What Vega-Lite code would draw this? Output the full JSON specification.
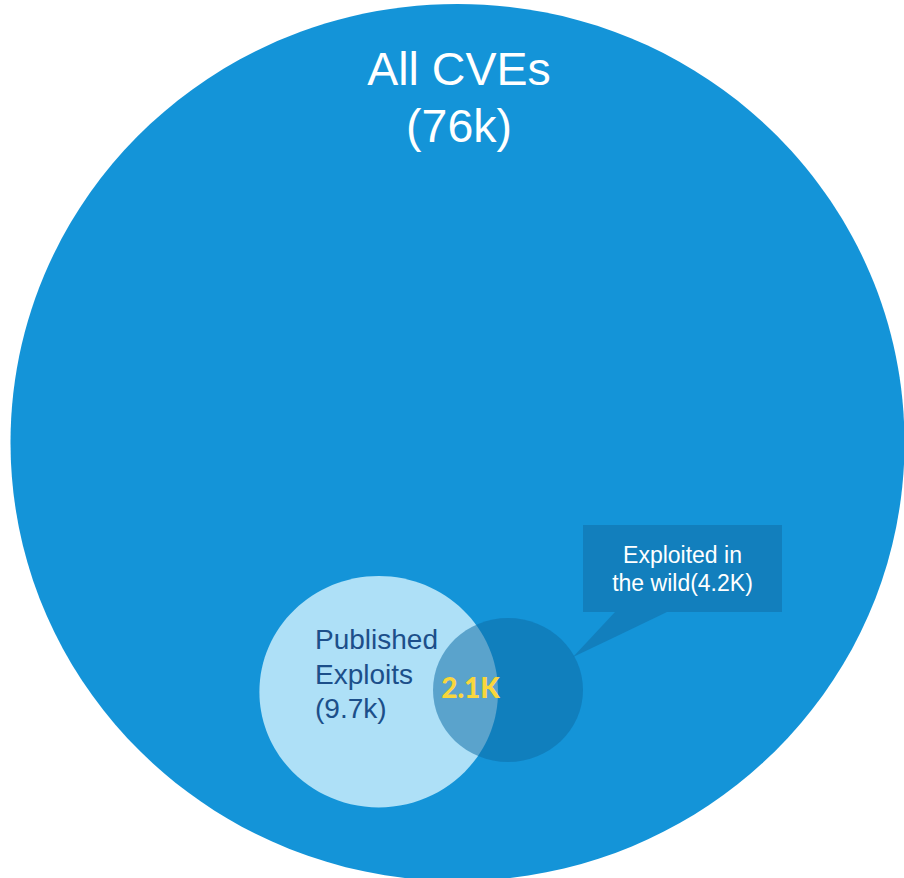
{
  "$schema": "https://vega.github.io/schema/vega-lite/v6.json",
  "width": 904,
  "height": 878,
  "padding": 0,
  "autosize": {"type": "none"},
  "background": "white",
  "config": {"view": {"stroke": null}},
  "datasets": {
    "sets": [
      {"set": "All CVEs", "count": "76k", "cx": 457.5, "cy": 442.5},
      {"set": "Published Exploits", "count": "9.7k", "cx": 378.7, "cy": 691.7},
      {"set": "Exploited in the wild", "count": "4.2K", "cx": 508, "cy": 690}
    ],
    "labels": [
      {"group": "all", "label": "All CVEs\n(76k)", "lx": 459, "ly": 85},
      {"group": "published", "label": "Published\nExploits\n(9.7k)", "lx": 315, "ly": 649},
      {"group": "wild", "label": "Exploited in\nthe wild(4.2K)", "lx": 682.5, "ly": 563},
      {"group": "overlap", "label": "2.1K", "lx": 470.5, "ly": 698}
    ],
    "callout": [
      {"bx": 583, "bx2": 782, "by": 525, "by2": 612}
    ],
    "pointer": [
      {"px": 573, "py": 657, "py2": 657},
      {"px": 615, "py": 612, "py2": 636.9},
      {"px": 667, "py": 612, "py2": 612}
    ]
  },
  "layer": [
    {
      "data": {"name": "sets"},
      "transform": [{"filter": "datum.set === 'All CVEs'"}],
      "mark": {"type": "point", "filled": true, "opacity": 1, "strokeWidth": 0, "color": "#1494d8", "size": 799236, "shape": "M-1,0A1,0.981,0,1,0,1,0A1,0.981,0,1,0,-1,0Z"},
      "encoding": {
        "x": {"field": "cx", "type": "quantitative", "scale": {"domain": [0, 904], "nice": false, "zero": false}, "axis": null},
        "y": {"field": "cy", "type": "quantitative", "scale": {"domain": [0, 878], "nice": false, "zero": false, "reverse": true}, "axis": null}
      }
    },
    {
      "data": {"name": "sets"},
      "transform": [{"filter": "datum.set === 'Published Exploits'"}],
      "mark": {"type": "point", "filled": true, "opacity": 1, "strokeWidth": 0, "color": "#aee0f7", "size": 56930, "shape": "M-1,0A1,0.97,0,1,0,1,0A1,0.97,0,1,0,-1,0Z"},
      "encoding": {
        "x": {"field": "cx", "type": "quantitative"},
        "y": {"field": "cy", "type": "quantitative"}
      }
    },
    {
      "data": {"name": "callout"},
      "mark": {"type": "rect", "color": "#127fbd"},
      "encoding": {
        "x": {"field": "bx", "type": "quantitative"},
        "x2": {"field": "bx2"},
        "y": {"field": "by", "type": "quantitative"},
        "y2": {"field": "by2"}
      }
    },
    {
      "data": {"name": "pointer"},
      "mark": {"type": "area", "orient": "vertical", "color": "#127fbd", "interpolate": "linear"},
      "encoding": {
        "x": {"field": "px", "type": "quantitative"},
        "y": {"field": "py", "type": "quantitative"},
        "y2": {"field": "py2"}
      }
    },
    {
      "data": {"name": "labels"},
      "transform": [{"filter": "datum.group === 'published'"}],
      "mark": {"type": "text", "align": "left", "baseline": "alphabetic", "font": "Liberation Sans", "fontSize": 28, "lineHeight": 34.5, "lineBreak": "\n", "color": "#1c4f8a"},
      "encoding": {
        "x": {"field": "lx", "type": "quantitative"},
        "y": {"field": "ly", "type": "quantitative"},
        "text": {"field": "label"}
      }
    },
    {
      "data": {"name": "sets"},
      "transform": [{"filter": "datum.set === 'Exploited in the wild'"}],
      "mark": {"type": "point", "filled": true, "opacity": 0.52, "strokeWidth": 0, "color": "#0d6ca4", "size": 22500, "shape": "M-1,0A1,0.96,0,1,0,1,0A1,0.96,0,1,0,-1,0Z"},
      "encoding": {
        "x": {"field": "cx", "type": "quantitative"},
        "y": {"field": "cy", "type": "quantitative"}
      }
    },
    {
      "data": {"name": "labels"},
      "transform": [{"filter": "datum.group === 'all'"}],
      "mark": {"type": "text", "align": "center", "baseline": "alphabetic", "font": "Liberation Sans", "fontSize": 46.5, "lineHeight": 56.7, "lineBreak": "\n", "color": "white"},
      "encoding": {
        "x": {"field": "lx", "type": "quantitative"},
        "y": {"field": "ly", "type": "quantitative"},
        "text": {"field": "label"}
      }
    },
    {
      "data": {"name": "labels"},
      "transform": [{"filter": "datum.group === 'wild'"}],
      "mark": {"type": "text", "align": "center", "baseline": "alphabetic", "font": "Liberation Sans", "fontSize": 23, "lineHeight": 28.4, "lineBreak": "\n", "color": "white"},
      "encoding": {
        "x": {"field": "lx", "type": "quantitative"},
        "y": {"field": "ly", "type": "quantitative"},
        "text": {"field": "label"}
      }
    },
    {
      "data": {"name": "labels"},
      "transform": [{"filter": "datum.group === 'overlap'"}],
      "mark": {"type": "text", "align": "center", "baseline": "alphabetic", "font": "Lato", "fontWeight": 900, "fontSize": 28, "color": "#f9d63c"},
      "encoding": {
        "x": {"field": "lx", "type": "quantitative"},
        "y": {"field": "ly", "type": "quantitative"},
        "text": {"field": "label"}
      }
    }
  ]
}
